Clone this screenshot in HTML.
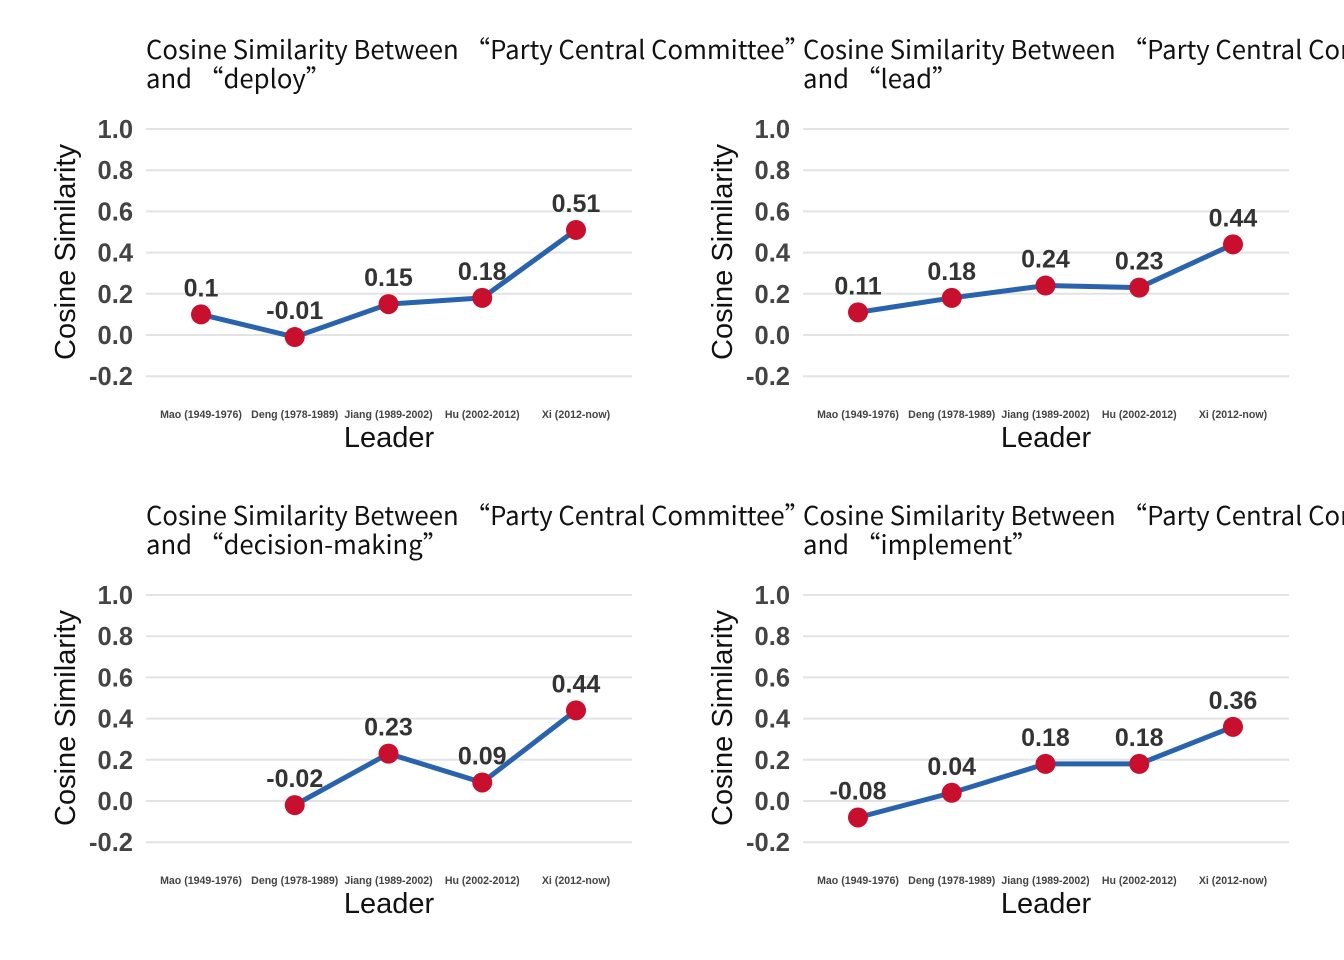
<!DOCTYPE html>
<html><head><meta charset="utf-8">
<style>
html,body{margin:0;padding:0;background:#fff;width:1344px;height:960px;overflow:hidden}
svg{display:block}
</style></head>
<body>
<svg id="chart" width="1344" height="960" xmlns="http://www.w3.org/2000/svg"></svg>
<script>
const categories = ["Mao (1949-1976)","Deng (1978-1989)","Jiang (1989-2002)","Hu (2002-2012)","Xi (2012-now)"];
const panelTerms = ["deploy","lead","decision-making","implement"];
const valuesDeploy = [0.1,-0.01,0.15,0.18,0.51];
const valuesLead = [0.11,0.18,0.24,0.23,0.44];
const valuesDecision = [null,-0.02,0.23,0.09,0.44];
const valuesImplement = [-0.08,0.04,0.18,0.18,0.36];
const yTicks = [-0.2,0,0.2,0.4,0.6,0.8,1.0];
const yTickLabels = ["-0.2","0.0","0.2","0.4","0.6","0.8","1.0"];

const NS="http://www.w3.org/2000/svg";
const svg=document.getElementById('chart');
function mk(tag,attrs,parent,text){const e=document.createElementNS(NS,tag);for(const k in attrs)e.setAttribute(k,attrs[k]);if(text!==undefined)e.textContent=text;parent.appendChild(e);return e;}
const series=[valuesDeploy,valuesLead,valuesDecision,valuesImplement];
const offsets=[[0,0],[657,0],[0,466],[657,466]];
const TF='"Noto Sans CJK SC","Noto Sans CJK JP",sans-serif';
series.forEach((vals,p)=>{
  const [ox,oy]=offsets[p];
  const g=mk('g',{},svg);
  
  
  const y=v=>oy+335-(v/0.2)*41.2;
  const x=i=>ox+201+i*93.75;
  const t=mk('text',{x:ox+146,y:oy+59,'font-family':TF,'font-size':'25.7',fill:'#111'},g,'Cosine Similarity Between \u201cParty Central Committee\u201d');
  
  
  const t2=mk('text',{x:ox+146,y:oy+88,'font-family':TF,'font-size':'25.7',fill:'#111'},g,'and \u201c'+panelTerms[p]+'\u201d');
  
  
  yTicks.forEach((v,i)=>{
    const l=mk('line',{x1:ox+146,x2:ox+632,y1:y(v),y2:y(v),stroke:'#e3e3e3','stroke-width':'2'},g);
    
    
    const tl=mk('text',{x:ox+133,y:y(v)+9,'text-anchor':'end','font-family':'"Liberation Sans",sans-serif','font-size':'25.5','font-weight':'bold',fill:'#444'},g,yTickLabels[i]);
    
    
  });
  categories.forEach((c,i)=>{
    const tl=mk('text',{x:x(i),y:oy+418,'text-anchor':'middle','font-family':'"Liberation Sans",sans-serif','font-size':'10.6','font-weight':'bold',fill:'#444'},g,c);
    
    
  });
  const xt=mk('text',{x:ox+389,y:oy+447,'text-anchor':'middle','font-family':'"Liberation Sans",sans-serif','font-size':'29',fill:'#111'},g,'Leader');
  
  
  const yt=mk('text',{x:0,y:0,transform:`translate(${ox+75},${oy+252}) rotate(-90)`,'text-anchor':'middle','font-family':'"Liberation Sans",sans-serif','font-size':'29',fill:'#111'},g,'Cosine Similarity');
  
  
  const pts=[];vals.forEach((v,i)=>{if(v!==null)pts.push([x(i),y(v)]);});
  const pl=mk('polyline',{points:pts.map(q=>q.join(',')).join(' '),fill:'none',stroke:'#2a63ad','stroke-width':'5','stroke-linejoin':'round'},g);
  
  
  vals.forEach((v,i)=>{
    if(v===null)return;
    const c=mk('circle',{cx:x(i),cy:y(v),r:'10',fill:'#c8102e'},g);
    
    
    const lb=mk('text',{x:x(i),y:y(v)-18,'text-anchor':'middle','font-family':'"Liberation Sans",sans-serif','font-size':'25','font-weight':'bold',fill:'#333'},g,String(v));
    
    
  });
});
</script>
</body></html>
